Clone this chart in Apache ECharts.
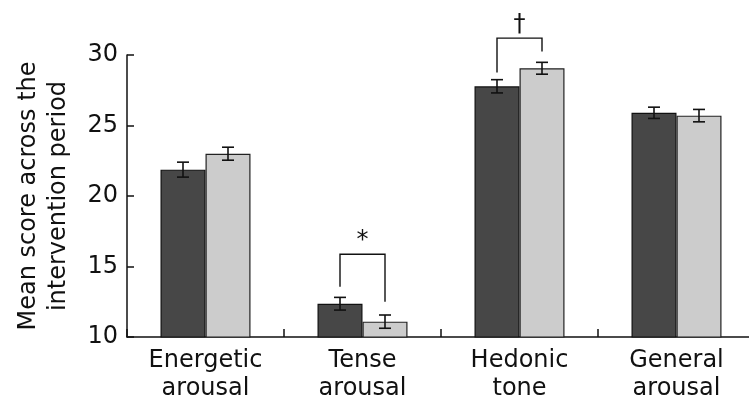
<!DOCTYPE html>
<html>
<head>
<meta charset="utf-8">
<script src="https://cdn.jsdelivr.net/npm/echarts@6/dist/echarts.min.js"></script>
<style>
html,body{margin:0;padding:0;background:#fff;}
#chart{width:749px;height:410px;}
</style>
</head>
<body>
<div id="chart"></div>
<script>
var categories = ['Energetic\narousal', 'Tense\narousal', 'Hedonic\ntone', 'General\narousal'];
var darkMeans = [21.87, 12.36, 27.78, 25.9];
var darkErr = [0.53, 0.45, 0.47, 0.4];
var lightMeans = [23.0, 11.09, 29.06, 25.7];
var lightErr = [0.46, 0.47, 0.42, 0.44];
var yTicks = [10, 15, 20, 25, 30];
// significance brackets: [category index, bracket top, left leg end, right leg end]
var brackets = [[1, 15.87, 13.57, 12.5], [2, 31.2, 28.76, 30.24]];
var bracketMarks = ['*', '\u2020'];

var FONT = 'DejaVu Sans';
var BAR_W = 45;

var chart = echarts.init(document.getElementById('chart'));

function errData(means, errs) {
  return means.map(function (m, i) { return [i, m - errs[i], m + errs[i]]; });
}
function errRender(offset) {
  return function (params, api) {
    var lo = api.coord([api.value(0), api.value(1)]);
    var hi = api.coord([api.value(0), api.value(2)]);
    var x = lo[0] + offset;
    var cap = 6;
    var st = { stroke: '#111', lineWidth: 1.6 };
    return {
      type: 'group',
      children: [
        { type: 'line', shape: { x1: x, y1: lo[1], x2: x, y2: hi[1] }, style: st },
        { type: 'line', shape: { x1: x - cap, y1: lo[1], x2: x + cap, y2: lo[1] }, style: st },
        { type: 'line', shape: { x1: x - cap, y1: hi[1], x2: x + cap, y2: hi[1] }, style: st }
      ]
    };
  };
}

var option = {
  animation: false,
  backgroundColor: '#fff',
  grid: { left: 127, top: 55, width: 628, height: 282, containLabel: false, outerBoundsMode: 'none' },
  xAxis: {
    type: 'category',
    data: categories,
    axisLine: { lineStyle: { color: '#111', width: 1.5 } },
    axisTick: { show: true, inside: true, length: 8, lineStyle: { color: '#111', width: 1.5 } },
    axisLabel: { color: '#111', fontFamily: FONT, fontSize: 24, lineHeight: 28, margin: 10 }
  },
  yAxis: {
    type: 'value',
    min: yTicks[0],
    max: yTicks[yTicks.length - 1],
    interval: 5,
    name: 'Mean score across the\nintervention period',
    nameLocation: 'middle',
    nameRotate: 90,
    nameGap: 53,
    nameTextStyle: { color: '#111', fontFamily: FONT, fontSize: 24, lineHeight: 30 },
    splitLine: { show: false },
    axisLine: { show: true, lineStyle: { color: '#111', width: 1.5 } },
    axisTick: { show: true, inside: true, length: 7, lineStyle: { color: '#111', width: 1.5 } },
    axisLabel: { color: '#111', fontFamily: FONT, fontSize: 24, margin: 9 }
  },
  series: [
    {
      type: 'bar', name: 'Dark', data: darkMeans, barWidth: BAR_W, barGap: '0%',
      itemStyle: { color: '#474747', borderColor: '#111', borderWidth: 1.2 }
    },
    {
      type: 'bar', name: 'Light', data: lightMeans, barWidth: BAR_W,
      itemStyle: { color: '#cccccc', borderColor: '#222', borderWidth: 1.2 }
    },
    {
      type: 'custom', data: errData(darkMeans, darkErr), renderItem: errRender(-BAR_W / 2),
      encode: { x: 0, y: [1, 2] }, z: 5, silent: true
    },
    {
      type: 'custom', data: errData(lightMeans, lightErr), renderItem: errRender(BAR_W / 2),
      encode: { x: 0, y: [1, 2] }, z: 5, silent: true
    },
    {
      type: 'custom', data: brackets, clip: false, silent: true, z: 6,
      encode: { x: 0, y: [1, 2, 3] },
      renderItem: function (params, api) {
        var c = api.value(0);
        var top = api.coord([c, api.value(1)]);
        var lb = api.coord([c, api.value(2)]);
        var rb = api.coord([c, api.value(3)]);
        var xl = top[0] - BAR_W / 2, xr = top[0] + BAR_W / 2;
        return {
          type: 'group',
          children: [
            { type: 'polyline', shape: { points: [[xl, lb[1]], [xl, top[1]], [xr, top[1]], [xr, rb[1]]] },
              style: { stroke: '#111', lineWidth: 1.4, fill: null } },
            { type: 'text', style: { text: bracketMarks[params.dataIndex], x: top[0], y: top[1] - 1,
              textAlign: 'center', textVerticalAlign: 'bottom', fontFamily: FONT, fontSize: 24, fill: '#111' } }
          ]
        };
      }
    }
  ]
};
chart.setOption(option);
</script>
</body>
</html>
